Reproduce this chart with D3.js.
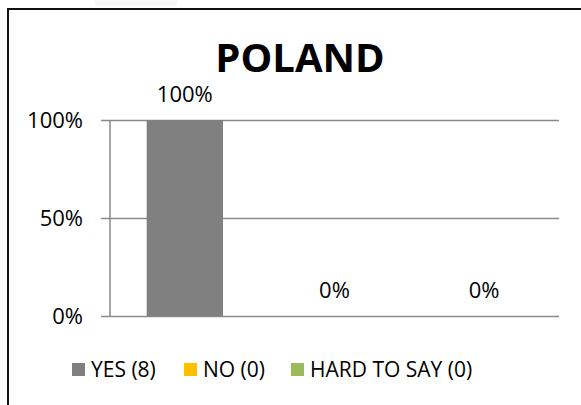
<!DOCTYPE html>
<html>
<head>
<meta charset="utf-8">
<script src="https://cdn.jsdelivr.net/npm/d3@7"></script>
<style>
  html, body { margin: 0; padding: 0; background: #fff; }
  svg { display: block; }
  text { font-family: "Open Sans", "Liberation Sans", sans-serif; fill: #000; }
</style>
</head>
<body>
<svg id="chart" width="581" height="405"></svg>
<script>
// Survey answers for Poland
const categories = ["YES (8)", "NO (0)", "HARD TO SAY (0)"];
const shares = [1.0, 0.0, 0.0];
const colors = ["#808080", "#FFC000", "#9BBB59"];
const yTicks = [0, 0.5, 1.0];
const title = "POLAND";

const svg = d3.select("#chart");
const W = 581, H = 405;

// faint strip along the top edge
svg.append("rect").attr("x", 95).attr("y", 0).attr("width", 82).attr("height", 6)
  .attr("fill", "#f6f6f6");

// chart frame (top and left edges)
svg.append("path")
  .attr("d", `M8,${H} L8,9 L${W},9`)
  .attr("fill", "none").attr("stroke", "#111").attr("stroke-width", 2);

const plot = { left: 110, right: 559, top: 120, bottom: 316 };

const x = d3.scaleBand().domain(categories)
  .range([plot.left, plot.right]).paddingInner(0.49).paddingOuter(0.245);
const y = d3.scaleLinear().domain([0, 1]).range([plot.bottom, plot.top]);

// gridlines with outward ticks
const yAxis = d3.axisLeft(y).tickValues(yTicks)
  .tickFormat(d3.format(".0%"))
  .tickSize(-(plot.right - plot.left)).tickPadding(0);
const gy = svg.append("g").attr("transform", `translate(${plot.left},0)`).call(yAxis);
gy.select(".domain").remove();
gy.selectAll(".tick line")
  .attr("x1", -9).attr("stroke", "#8a8a8a").attr("stroke-width", 1.5);
gy.selectAll(".tick text")
  .attr("x", -27).attr("font-size", 22).attr("dy", "0.35em")
  .attr("fill", "#000").style("font-family", "'Open Sans', sans-serif");

// vertical axis line
svg.append("line")
  .attr("x1", plot.left).attr("x2", plot.left)
  .attr("y1", y(1)).attr("y2", y(0))
  .attr("stroke", "#8a8a8a").attr("stroke-width", 1.5);

// bars
svg.selectAll("rect.bar").data(categories).enter().append("rect")
  .attr("class", "bar")
  .attr("x", d => x(d))
  .attr("width", x.bandwidth())
  .attr("y", (d, i) => y(shares[i]))
  .attr("height", (d, i) => y(0) - y(shares[i]))
  .attr("fill", (d, i) => colors[i]);

// value labels
svg.selectAll("text.val").data(categories).enter().append("text")
  .attr("class", "val")
  .attr("x", d => x(d) + x.bandwidth() / 2)
  .attr("y", (d, i) => y(shares[i]) - 18)
  .attr("text-anchor", "middle")
  .attr("font-size", 22)
  .text((d, i) => d3.format(".0%")(shares[i]));

// title
svg.append("text")
  .attr("x", 300).attr("y", 72)
  .attr("text-anchor", "middle")
  .attr("font-size", 40).attr("font-weight", "bold")
  .text(title);

// legend
const legendItems = [
  { x: 72, label: categories[0], color: colors[0] },
  { x: 184, label: categories[1], color: colors[1] },
  { x: 291, label: categories[2], color: colors[2] }
];
const lg = svg.append("g");
legendItems.forEach(it => {
  lg.append("rect").attr("x", it.x).attr("y", 363).attr("width", 13).attr("height", 13)
    .attr("fill", it.color);
  lg.append("text").attr("x", it.x + 19).attr("y", 370).attr("dy", "0.35em")
    .attr("font-size", 21).text(it.label);
});
</script>
</body>
</html>
